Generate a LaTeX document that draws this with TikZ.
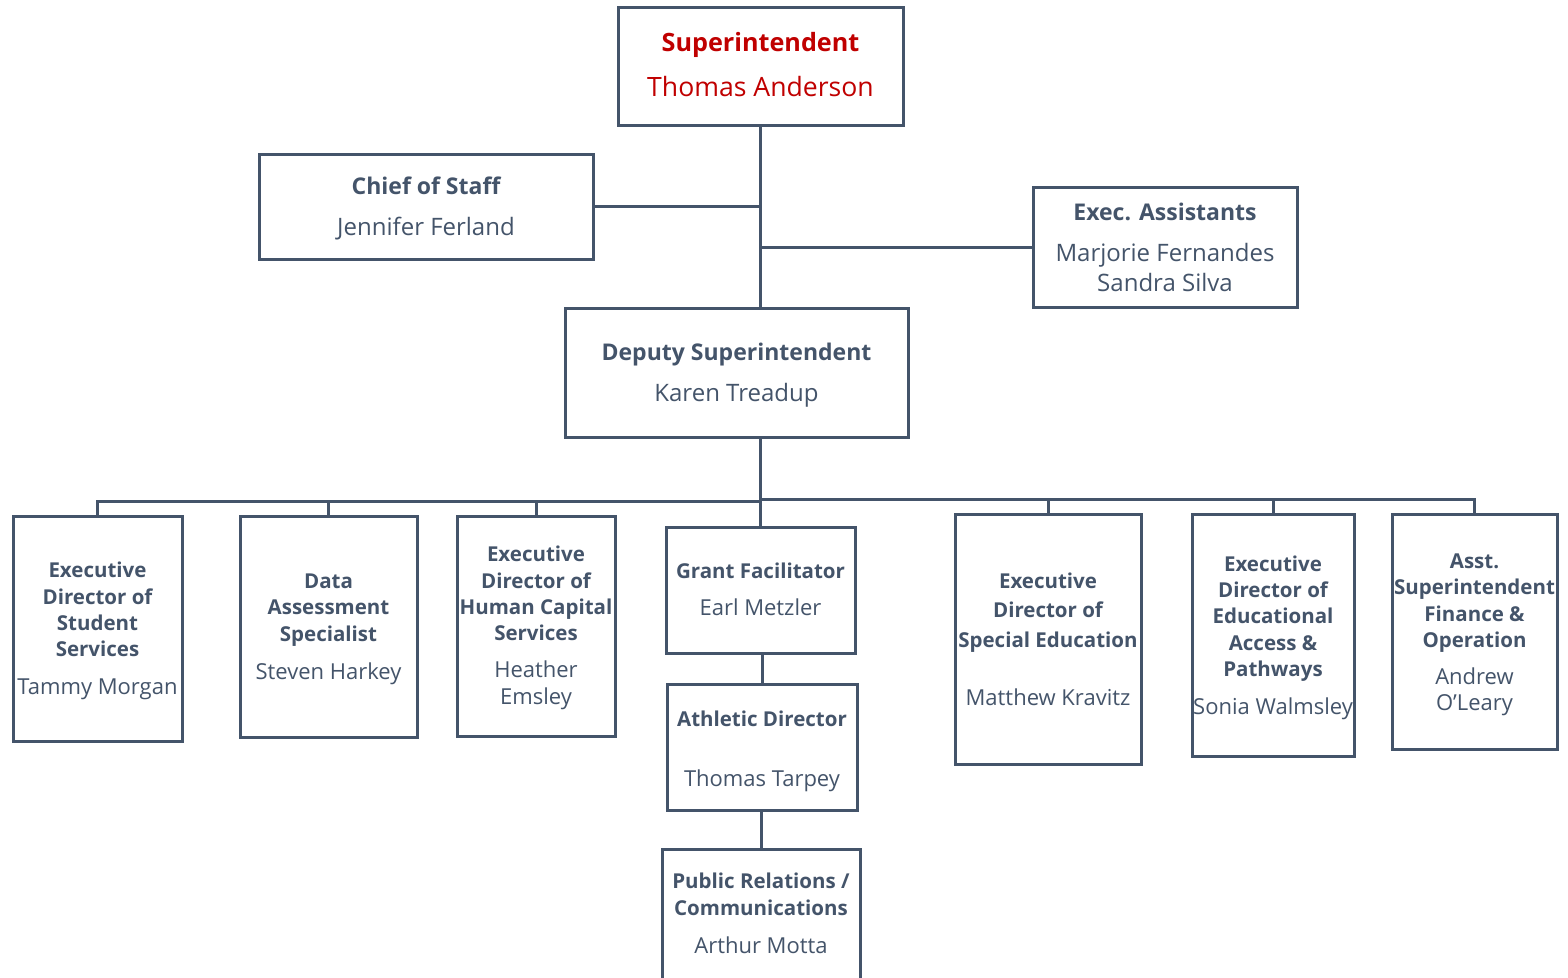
\documentclass[tikz,border=0pt]{standalone}
\usepackage{fontspec}
\setmainfont{Open Sans}
\definecolor{slate}{HTML}{44546A}
\definecolor{supred}{HTML}{C00000}
\begin{document}
\begin{tikzpicture}[x=1pt,y=-1pt,
  box/.style={draw=slate, line width=3pt, fill=white, inner sep=0pt},
  conn/.style={draw=slate, line width=3pt},
  ttl/.style={text=slate, font=\fontsize{20.5}{26.3}\selectfont\bfseries, align=center, inner sep=0pt},
  nm/.style={text=slate, font=\fontsize{22}{26.5}\selectfont, align=center, inner sep=0pt},
  uttl/.style={ttl, font=\fontsize{23}{28}\selectfont\bfseries},
  unm/.style={nm, font=\fontsize{24}{30}\selectfont}]
\useasboundingbox (0,0) rectangle (1568,977);
\clip (0,0) rectangle (1568,977);
% boxes
\node[box, minimum width=285, minimum height=118] (sup) at (760.5,66) {};
\node[box, minimum width=334, minimum height=105] (cos) at (426,206.5) {};
\node[box, minimum width=264, minimum height=120] (exa) at (1165,247) {};
\node[box, minimum width=343, minimum height=129] (dep) at (736.5,372.5) {};
\node[box, minimum width=169, minimum height=225] (l1) at (97.5,628.5) {};
\node[box, minimum width=177, minimum height=221] (l2) at (328.5,626.5) {};
\node[box, minimum width=158, minimum height=220] (l3) at (536,626) {};
\node[box, minimum width=189, minimum height=126] (gf) at (760.5,590) {};
\node[box, minimum width=190, minimum height=126] (ad) at (762,747) {};
\node[box, minimum width=198, minimum height=142] (pr) at (761,920) {};
\node[box, minimum width=186, minimum height=250] (se) at (1048,639) {};
\node[box, minimum width=162, minimum height=242] (ea) at (1273,635) {};
\node[box, minimum width=165, minimum height=235] (as) at (1474.5,631.5) {};
% bus coordinates
\coordinate (busL) at (760,501);
\coordinate (busR) at (760,499);
% connectors
\draw[conn] (sup.south) -- (sup.south |- dep.north);
\draw[conn] (cos.east) -- (cos.east -| sup.south);
\draw[conn] (exa.west) -- (exa.west -| sup.south);
\draw[conn] (sup.south |- dep.south) -- (gf.north);
\draw[conn] (l1.north) |- (busL);
\draw[conn] (l2.north) -- (l2.north |- busL);
\draw[conn] (l3.north) -- (l3.north |- busL);
\draw[conn] (as.north) |- (busR);
\draw[conn] (se.north) -- (se.north |- busR);
\draw[conn] (ea.north) -- (ea.north |- busR);
\draw[conn] (gf.south -| ad.north) -- (ad.north);
\draw[conn] (ad.south -| pr.north) -- (pr.north);
% texts
\node[ttl, anchor=base, text=supred, font=\fontsize{25.2}{30}\selectfont\bfseries] (t-sup) at (760.5,51.5) {Superintendent};
\node[nm, anchor=base, text=supred, font=\fontsize{26.6}{30}\selectfont] (n-sup) at (760.5,96) {Thomas Anderson};
\node[uttl, anchor=base] (t-cos) at (426,194) {Chief of Staff};
\node[unm, anchor=base] (n-cos) at (426,235) {Jennifer Ferland};
\node[uttl, anchor=base] (t-exa) at (1165,220) {Exec. Assistants};
\node[unm] (n-exa) at (1165,267) {Marjorie Fernandes\\Sandra Silva};
\node[uttl, anchor=base] (t-dep) at (736.5,360) {Deputy Superintendent};
\node[unm, anchor=base] (n-dep) at (736.5,401) {Karen Treadup};
\node[ttl] (t-l1) at (97.5,609.5) {Executive\\Director of\\Student\\Services};
\node[nm, anchor=base] (n-l1) at (97.5,694) {Tammy Morgan};
\node[ttl] (t-l2) at (328.5,610) {Data\\Assessment\\Specialist};
\node[nm, anchor=base] (n-l2) at (328.5,679) {Steven Harkey};
\node[ttl] (t-l3) at (536,593.5) {Executive\\Director of\\Human Capital\\Services};
\node[nm, font=\fontsize{22}{27}\selectfont] (n-l3) at (536,685) {Heather\\Emsley};
\node[ttl, anchor=base] (t-gf) at (760.5,578) {Grant Facilitator};
\node[nm, anchor=base] (n-gf) at (760.5,615) {Earl Metzler};
\node[ttl, anchor=base] (t-ad) at (762,726) {Athletic Director};
\node[nm, anchor=base] (n-ad) at (762,786) {Thomas Tarpey};
\node[ttl, font=\fontsize{20.5}{27}\selectfont\bfseries] (t-pr) at (761,894.5) {Public Relations /\\Communications};
\node[nm, anchor=base] (n-pr) at (761,953) {Arthur Motta};
\node[ttl, font=\fontsize{20.5}{29.5}\selectfont\bfseries] (t-se) at (1048,612.5) {Executive\\Director of\\Special Education};
\node[nm, anchor=base] (n-se) at (1048,705) {Matthew Kravitz};
\node[ttl] (t-ea) at (1273,618.5) {Executive\\Director of\\Educational\\Access \&\\Pathways};
\node[nm, anchor=base] (n-ea) at (1273,714) {Sonia Walmsley};
\node[ttl] (t-as) at (1474.5,603) {Asst.\\Superintendent\\Finance \&\\Operation};
\node[nm] (n-as) at (1474.5,692) {Andrew\\O’Leary};
\end{tikzpicture}
\end{document}
